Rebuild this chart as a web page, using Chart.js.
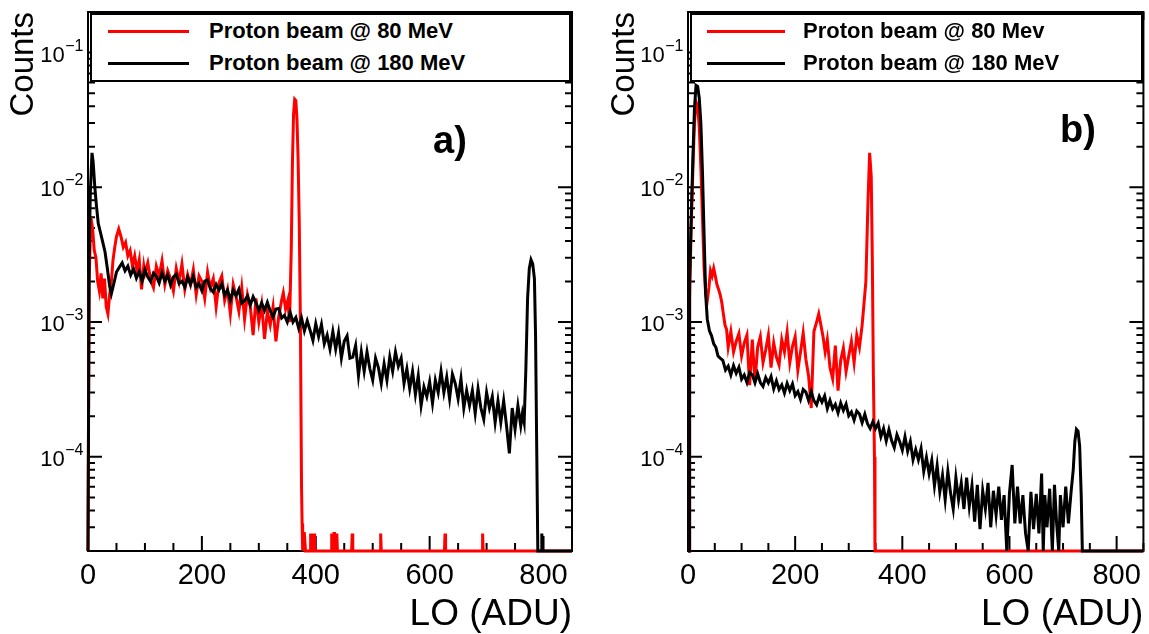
<!DOCTYPE html>
<html>
<head>
<meta charset="utf-8">
<script src="https://cdn.jsdelivr.net/npm/chart.js@4.4.1/dist/chart.umd.min.js"></script>
<style>
html, body { margin: 0; padding: 0; background: #fff; }
#wrap { position: relative; width: 1149px; height: 634px; overflow: hidden;
        font-family: "Liberation Sans", Arial, Helvetica, sans-serif; color: #000; }
canvas { position: absolute; top: 0; }
#ca { left: 0; }
#cb { left: 580px; }
.legbox { position: absolute; top: 13px; height: 69px; box-sizing: border-box;
          border: 2px solid #000; background: #fff; }
.legline { position: absolute; height: 3px; }
.legtext { position: absolute; font-weight: bold; font-size: 22px; line-height: 22px; white-space: nowrap; }
.panel { position: absolute; font-weight: bold; font-size: 38px; line-height: 38px; }
</style>
</head>
<body>
<div id="wrap">
  <canvas id="ca" width="580" height="634"></canvas>
  <canvas id="cb" width="569" height="634"></canvas>

  <div class="legbox" style="left:90px;width:481px;"></div>
  <div class="legline" style="left:108px;top:29.5px;width:81px;background:#ff0000;"></div>
  <div class="legtext" id="la1" style="left:209px;top:20px;"></div>
  <div class="legline" style="left:108px;top:61.5px;width:81px;background:#000;"></div>
  <div class="legtext" id="la2" style="left:209px;top:52px;"></div>
  <div class="panel" id="pa" style="left:433px;top:121px;"></div>

  <div class="legbox" style="left:690px;width:453px;"></div>
  <div class="legline" style="left:707px;top:29.5px;width:78px;background:#ff0000;"></div>
  <div class="legtext" id="lb1" style="left:803px;top:20px;"></div>
  <div class="legline" style="left:707px;top:61.5px;width:78px;background:#000;"></div>
  <div class="legtext" id="lb2" style="left:803px;top:52px;"></div>
  <div class="panel" id="pb" style="left:1060px;top:110px;"></div>
</div>

<script>
// ---------------- axis / label data ----------------
const X_MIN = 0, X_MAX = 850;
const Y_MIN = 2e-5, Y_MAX = 0.2;
const xTickValues = [0, 200, 400, 600, 800];
const yTickValues = [1e-4, 1e-3, 1e-2, 1e-1];
const xTitle = 'LO (ADU)';
const yTitle = 'Counts';
const legendLabelsA = ['Proton beam @ 80 MeV', 'Proton beam @ 180 MeV'];
const legendLabelsB = ['Proton beam @ 80 Mev', 'Proton beam @ 180 MeV'];
const panelLabels = ['a)', 'b)'];

// ---------------- panel a : 180 MeV (black) ----------------
const aBlackX = [
  0, 2, 4, 7, 9, 12, 15, 18, 22, 26,
  30, 34, 38, 41, 45, 50, 55, 60, 65, 70,
  75, 80, 85, 90, 95, 100, 105, 110, 115, 120,
  125, 130, 135, 140, 145, 150, 155, 160, 165, 170,
  175, 180, 185, 190, 195, 200, 205, 210, 215, 220,
  225, 230, 235, 240, 245, 250, 255, 260, 265, 270,
  275, 280, 285, 290, 295, 300, 305, 310, 315, 320,
  325, 330, 335, 340, 345, 350, 355, 360, 365, 370,
  375, 380, 385, 390, 395, 400, 405, 410, 415, 420,
  425, 430, 435, 440, 445, 450, 455, 460, 465, 470,
  475, 480, 485, 490, 495, 500, 505, 510, 515, 520,
  525, 530, 535, 540, 545, 550, 555, 560, 565, 570,
  575, 580, 585, 590, 595, 600, 605, 610, 615, 620,
  625, 630, 635, 640, 645, 650, 655, 660, 665, 670,
  675, 680, 685, 690, 695, 700, 705, 710, 715, 720,
  725, 730, 735, 740, 745, 750, 755, 760, 763, 766,
  769, 772, 775, 778, 781, 784, 786, 788, 790, 796,
  797, 798, 850
];
const aBlackY = [
  0, 3.0e-3, 9.0e-3, 1.8e-2, 1.55e-2, 1.0e-2, 7.2e-3, 5.4e-3, 4.6e-3, 3.9e-3,
  3.3e-3, 2.5e-3, 1.85e-3, 1.62e-3, 1.9e-3, 2.35e-3, 2.55e-3, 2.75e-3, 2.4e-3, 2.6e-3,
  2.23e-3, 2.48e-3, 2.12e-3, 2.37e-3, 2.02e-3, 2.44e-3, 2.16e-3, 2.0e-3, 2.31e-3, 2.19e-3,
  1.95e-3, 2.32e-3, 2.01e-3, 2.23e-3, 1.88e-3, 2.16e-3, 2.27e-3, 1.93e-3, 2.01e-3, 1.82e-3,
  2.16e-3, 1.9e-3, 2.19e-3, 1.81e-3, 1.93e-3, 1.71e-3, 2.01e-3, 2.05e-3, 1.77e-3, 1.67e-3,
  1.9e-3, 1.73e-3, 1.93e-3, 1.58e-3, 1.73e-3, 1.45e-3, 1.73e-3, 1.57e-3, 1.75e-3, 1.38e-3,
  1.44e-3, 1.56e-3, 1.34e-3, 1.54e-3, 1.39e-3, 1.22e-3, 1.39e-3, 1.22e-3, 1.4e-3, 1.21e-3,
  1.09e-3, 1.25e-3, 1.26e-3, 1.07e-3, 1.12e-3, 1.0e-3, 1.18e-3, 1.0e-3, 1.08e-3, 9.0e-4,
  1.07e-3, 8.6e-4, 1.02e-3, 8.7e-4, 7.3e-4, 9.7e-4, 7.8e-4, 9.6e-4, 6.9e-4, 8.0e-4,
  6.3e-4, 8.5e-4, 6.3e-4, 8.3e-4, 5.4e-4, 7.2e-4, 7.9e-4, 5.4e-4, 5.5e-4, 6.7e-4,
  4.0e-4, 6.0e-4, 4.3e-4, 6.0e-4, 4.5e-4, 3.7e-4, 5.4e-4, 4.6e-4, 3.5e-4, 4.9e-4,
  3.7e-4, 5.5e-4, 4.3e-4, 6.0e-4, 4.7e-4, 5.4e-4, 3.5e-4, 4.5e-4, 3.2e-4, 4.3e-4,
  2.9e-4, 4.0e-4, 2.4e-4, 3.3e-4, 2.8e-4, 3.6e-4, 2.5e-4, 3.7e-4, 3.0e-4, 4.3e-4,
  3.0e-4, 3.9e-4, 2.7e-4, 4.1e-4, 3.5e-4, 2.7e-4, 3.8e-4, 2.3e-4, 3.1e-4, 2.4e-4,
  3.1e-4, 2.1e-4, 3.2e-4, 2.3e-4, 1.9e-4, 3.0e-4, 2.3e-4, 2.8e-4, 1.8e-4, 2.6e-4,
  1.8e-4, 2.6e-4, 1.7e-4, 1.06e-4, 2.3e-4, 1.6e-4, 2.4e-4, 1.7e-4, 2.1e-4, 1.8e-4,
  4.5e-4, 1.5e-3, 2.5e-3, 2.9e-3, 2.7e-3, 2.1e-3, 8.0e-4, 1.2e-4, 0, 0,
  2.7e-5, 0, 0
];

// ---------------- panel a : 80 MeV (red) ----------------
const aRedX = [
  0, 2, 5, 8, 11, 14, 17, 20, 23, 26,
  29, 32, 35, 38, 41, 44, 47, 50, 54, 58,
  62, 66, 70, 74, 78, 82, 86, 90, 94, 98,
  100, 105, 110, 115, 120, 125, 130, 135, 140, 145,
  150, 155, 160, 165, 170, 175, 180, 185, 190, 195,
  200, 205, 210, 215, 220, 225, 230, 235, 240, 245,
  250, 255, 260, 265, 270, 275, 280, 285, 290, 295,
  300, 305, 310, 315, 320, 325, 330, 335, 340, 343,
  347, 351, 354, 357, 359, 361, 363, 365, 367, 369,
  371, 373, 375, 376, 377, 379, 380, 382, 390, 391,
  392, 394, 395, 396, 397, 398, 427, 428, 429, 431,
  432, 433, 434, 436, 437, 438, 463, 464, 465, 513,
  514, 515, 626, 627, 628, 692, 693, 694, 850
];
const aRedY = [
  0, 2.0e-3, 6.0e-3, 5.0e-3, 3.4e-3, 3.0e-3, 2.0e-3, 1.7e-3, 2.3e-3, 1.5e-3,
  2.1e-3, 1.3e-3, 1.15e-3, 1.6e-3, 2.0e-3, 2.9e-3, 3.6e-3, 4.3e-3, 4.9e-3, 4.3e-3,
  3.6e-3, 3.9e-3, 3.1e-3, 3.4e-3, 2.6e-3, 3.1e-3, 2.4e-3, 2.9e-3, 1.75e-3, 2.6e-3,
  2.3e-3, 2.75e-3, 2.05e-3, 1.8e-3, 2.6e-3, 2.2e-3, 2.85e-3, 1.9e-3, 2.4e-3, 2.1e-3,
  1.7e-3, 2.5e-3, 2.0e-3, 2.7e-3, 1.75e-3, 2.25e-3, 1.9e-3, 2.45e-3, 1.6e-3, 2.2e-3,
  2.0e-3, 1.5e-3, 2.35e-3, 1.8e-3, 2.1e-3, 1.3e-3, 1.95e-3, 2.2e-3, 1.45e-3, 1.75e-3,
  1.15e-3, 1.9e-3, 1.55e-3, 1.2e-3, 1.8e-3, 1.05e-3, 1.6e-3, 1.3e-3, 8.0e-4, 1.5e-3,
  1.0e-3, 1.35e-3, 7.5e-4, 1.2e-3, 9.5e-4, 1.3e-3, 7.2e-4, 1.1e-3, 1.45e-3, 1.65e-3,
  1.25e-3, 1.45e-3, 1.0e-3, 3.5e-3, 1.5e-2, 3.5e-2, 4.5e-2, 4.4e-2, 3.2e-2, 1.6e-2,
  5.5e-3, 1.0e-3, 6.0e-5, 3.2e-5, 0, 2.7e-5, 2.7e-5, 0, 0, 2.7e-5,
  0, 0, 2.7e-5, 0, 2.7e-5, 0, 0, 2.7e-5, 0, 0,
  2.7e-5, 2.7e-5, 0, 0, 2.7e-5, 0, 0, 2.7e-5, 0, 0,
  2.7e-5, 0, 0, 2.7e-5, 0, 0, 2.7e-5, 0, 0
];

// ---------------- panel b : 180 MeV (black) ----------------
const bBlackX = [
  0, 2, 3, 6, 9, 12, 15, 18, 21, 24,
  27, 30, 33, 36, 40, 44, 48, 52, 56, 60,
  65, 70, 75, 80, 85, 90, 95, 100, 105, 110,
  115, 120, 125, 130, 135, 140, 145, 150, 155, 160,
  165, 170, 175, 180, 185, 190, 195, 200, 205, 210,
  215, 220, 225, 230, 235, 240, 245, 250, 255, 260,
  265, 270, 275, 280, 285, 290, 295, 300, 305, 310,
  315, 320, 325, 330, 335, 340, 345, 350, 355, 360,
  365, 370, 375, 380, 385, 390, 395, 400, 405, 410,
  415, 420, 425, 430, 435, 440, 445, 450, 455, 460,
  465, 470, 475, 480, 485, 490, 495, 500, 505, 510,
  515, 520, 525, 530, 535, 540, 545, 550, 555, 560,
  565, 570, 575, 580, 585, 590, 595, 600, 605, 610,
  615, 620, 625, 630, 635, 640, 645, 650, 655, 660,
  663, 666, 670, 675, 680, 684, 688, 692, 695, 700,
  705, 710, 715, 719, 722, 725, 728, 731, 734, 736,
  850
];
const bBlackY = [
  0, 0, 2.0e-3, 6.0e-3, 1.6e-2, 3.8e-2, 5.7e-2, 5.6e-2, 4.6e-2, 3.0e-2,
  1.3e-2, 4.5e-3, 1.6e-3, 1.05e-3, 8.6e-4, 7.9e-4, 6.9e-4, 6.5e-4, 5.6e-4, 5.4e-4,
  5.2e-4, 4.4e-4, 4.7e-4, 4.05e-4, 4.75e-4, 4.17e-4, 4.62e-4, 3.77e-4, 4.05e-4, 3.56e-4,
  4.23e-4, 4.06e-4, 3.54e-4, 4.14e-4, 3.56e-4, 3.33e-4, 3.87e-4, 3.53e-4, 3.94e-4, 3.19e-4,
  3.66e-4, 3.16e-4, 3.42e-4, 2.97e-4, 3.51e-4, 3.1e-4, 3.47e-4, 2.85e-4, 3.05e-4, 2.67e-4,
  3.16e-4, 3.02e-4, 2.62e-4, 3.05e-4, 2.61e-4, 2.43e-4, 2.81e-4, 2.55e-4, 2.83e-4, 2.28e-4,
  2.62e-4, 2.27e-4, 2.45e-4, 2.12e-4, 2.51e-4, 2.21e-4, 2.46e-4, 2.02e-4, 2.15e-4, 1.87e-4,
  2.19e-4, 2.08e-4, 1.79e-4, 2.07e-4, 1.76e-4, 1.62e-4, 1.82e-4, 1.62e-4, 1.78e-4, 1.41e-4,
  1.62e-4, 1.31e-4, 1.59e-4, 1.32e-4, 1.17e-4, 1.46e-4, 1.3e-4, 1.12e-4, 1.41e-4, 1.1e-4,
  1.3e-4, 9.5e-5, 1.13e-4, 9.5e-5, 1.15e-4, 7.8e-5, 9.9e-5, 7.5e-5, 9.4e-5, 6.1e-5,
  8.6e-5, 5.5e-5, 7.3e-5, 4.8e-5, 7.8e-5, 5.4e-5, 4.1e-5, 7.0e-5, 4.8e-5, 6.4e-5,
  4.1e-5, 7.0e-5, 4.3e-5, 6.1e-5, 3.3e-5, 6.2e-5, 2.9e-5, 5.6e-5, 4.1e-5, 6.4e-5,
  3.0e-5, 5.6e-5, 3.7e-5, 6.0e-5, 3.4e-5, 5.2e-5, 0, 5.4e-5, 8.7e-5, 3.2e-5,
  6.0e-5, 3.2e-5, 5.2e-5, 2.7e-5, 0, 5.5e-5, 2.9e-5, 5.3e-5, 2.7e-5, 7.5e-5,
  0, 5.2e-5, 3.0e-5, 5.8e-5, 0, 6.2e-5, 3.2e-5, 0, 5.2e-5, 3.0e-5,
  6.0e-5, 3.2e-5, 5.5e-5, 8.0e-5, 1.3e-4, 1.6e-4, 1.55e-4, 1.2e-4, 5.0e-5, 0,
  0
];

// ---------------- panel b : 80 MeV (red) ----------------
const bRedX = [
  0, 2, 3, 6, 9, 12, 15, 18, 21, 24,
  27, 30, 33, 36, 39, 42, 45, 48, 51, 54,
  57, 60, 63, 66, 69, 72, 75, 80, 85, 90,
  95, 100, 105, 110, 115, 120, 125, 130, 135, 140,
  145, 150, 155, 160, 165, 170, 175, 180, 185, 190,
  195, 200, 205, 210, 215, 220, 225, 230, 235, 240,
  244, 248, 252, 256, 260, 265, 270, 275, 280, 285,
  290, 295, 300, 305, 310, 315, 320, 325, 328, 332,
  336, 339, 342, 344, 346, 348, 349, 850
];
const bRedY = [
  0, 0, 1.5e-3, 5.2e-3, 1.3e-2, 3.0e-2, 4.3e-2, 4.0e-2, 2.8e-2, 1.4e-2,
  6.0e-3, 2.5e-3, 1.6e-3, 1.45e-3, 1.8e-3, 2.4e-3, 2.2e-3, 2.5e-3, 2.2e-3, 1.9e-3,
  1.75e-3, 1.6e-3, 1.4e-3, 1.15e-3, 9.5e-4, 8.8e-4, 6.5e-4, 8.5e-4, 6.0e-4, 7.2e-4,
  8.2e-4, 5.6e-4, 7.0e-4, 8.0e-4, 3.4e-4, 7.4e-4, 3.6e-4, 6.5e-4, 7.8e-4, 5.0e-4,
  6.2e-4, 8.0e-4, 4.6e-4, 7.0e-4, 5.5e-4, 4.8e-4, 7.4e-4, 6.0e-4, 8.4e-4, 5.0e-4,
  6.6e-4, 7.8e-4, 4.4e-4, 6.0e-4, 8.3e-4, 5.3e-4, 4.0e-4, 2.3e-4, 8.5e-4, 1.0e-3,
  1.15e-3, 9.5e-4, 7.8e-4, 6.0e-4, 7.4e-4, 4.6e-4, 3.8e-4, 6.7e-4, 3.1e-4, 5.2e-4,
  6.4e-4, 4.3e-4, 5.6e-4, 7.2e-4, 5.0e-4, 8.0e-4, 6.5e-4, 9.5e-4, 1.3e-3, 2.0e-3,
  8.0e-3, 1.8e-2, 1.2e-2, 3.0e-3, 4.0e-4, 1.0e-4, 0, 0
];

// ---------------- helpers ----------------
// empty bins are drawn on the lower frame edge, as in the original plot
function toPoints(xs, ys) {
  return xs.map((x, i) => ({ x: x, y: ys[i] > 0 ? ys[i] : Y_MIN }));
}
const FONT = '"Liberation Sans", Arial, Helvetica, sans-serif';

// ROOT-style frame with inward ticks on all four sides + 10^n labels
const rootFrame = {
  id: 'rootFrame',
  beforeDatasetsDraw(chart) {
    const { ctx, chartArea: a, scales } = chart;
    const xs = scales.x, ys = scales.y;
    ctx.save();
    ctx.strokeStyle = '#000';
    ctx.lineWidth = 2;
    ctx.beginPath();
    for (let v = X_MIN; v <= X_MAX; v += 50) {
      const px = xs.getPixelForValue(v);
      const len = (v % 200 === 0) ? 15 : 8;
      ctx.moveTo(px, a.bottom); ctx.lineTo(px, a.bottom - len);
      ctx.moveTo(px, a.top); ctx.lineTo(px, a.top + len);
    }
    for (let e = -5; e <= 0; e++) {
      for (let m = 1; m <= 9; m++) {
        const v = m * Math.pow(10, e);
        if (v <= Y_MIN * 1.0001 || v > Y_MAX) continue;
        const py = ys.getPixelForValue(v);
        const len = (m === 1) ? 14 : 7;
        ctx.moveTo(a.left, py); ctx.lineTo(a.left + len, py);
        ctx.moveTo(a.right, py); ctx.lineTo(a.right - len, py);
      }
    }
    ctx.stroke();
    ctx.strokeRect(a.left, a.top, a.right - a.left, a.bottom - a.top);
    ctx.restore();
  },
  afterDraw(chart) {
    const { ctx, chartArea: a, scales } = chart;
    const ys = scales.y;
    ctx.save();
    ctx.fillStyle = '#000';
    ctx.textAlign = 'left';
    ctx.textBaseline = 'alphabetic';
    for (const v of yTickValues) {
      const py = ys.getPixelForValue(v);
      const e = Math.round(Math.log10(v));
      const base = '10';
      const expo = (e < 0 ? '\u2212' : '') + Math.abs(e);
      ctx.font = '22px ' + FONT;
      const wb = ctx.measureText(base).width;
      ctx.font = '16px ' + FONT;
      const we = ctx.measureText(expo).width;
      const x0 = a.left - 5 - we - wb;
      ctx.font = '22px ' + FONT;
      ctx.fillText(base, x0, py + 9);
      ctx.font = '16px ' + FONT;
      ctx.fillText(expo, x0 + wb + 0.5, py - 2);
    }
    ctx.restore();
  }
};

Chart.defaults.font.family = FONT;
Chart.defaults.color = '#000';

function makeChart(id, blackX, blackY, redX, redY, labels, cfg) {
  return new Chart(document.getElementById(id), {
    type: 'line',
    data: {
      datasets: [
        { label: labels[1], data: toPoints(blackX, blackY), borderColor: '#000000',
          borderWidth: 3, tension: 0, pointRadius: 0, clip: false, fill: false,
          borderJoinStyle: 'miter' },
        { label: labels[0], data: toPoints(redX, redY), borderColor: '#ff0000',
          borderWidth: 3, tension: 0, pointRadius: 0, clip: false, fill: false,
          borderJoinStyle: 'miter' }
      ]
    },
    options: {
      responsive: false,
      animation: false,
      events: [],
      layout: { padding: { top: 12, right: cfg.padRight, bottom: 0, left: 0 } },
      plugins: { legend: { display: false }, tooltip: { enabled: false } },
      scales: {
        x: {
          type: 'linear', min: X_MIN, max: X_MAX,
          afterBuildTicks: s => { s.ticks = xTickValues.map(v => ({ value: v })); },
          afterFit: s => { s.height = 83; },
          grid: { display: false, drawTicks: false },
          border: { display: false },
          ticks: { color: '#000', font: { size: 29 }, padding: 8, maxRotation: 0, autoSkip: false,
                   callback: v => String(v) },
          title: { display: true, text: xTitle, align: 'end', color: '#000',
                   font: { size: 37, lineHeight: 1 }, padding: { top: 0, bottom: 1 } }
        },
        y: {
          type: 'logarithmic', min: Y_MIN, max: Y_MAX,
          afterBuildTicks: s => { s.ticks = yTickValues.map(v => ({ value: v })); },
          afterFit: s => { s.width = cfg.yWidth; },
          grid: { display: false, drawTicks: false },
          border: { display: false },
          ticks: { display: false },
          title: { display: true, text: yTitle, align: 'end', color: '#000',
                   font: { size: 33, lineHeight: 1 }, padding: { top: cfg.yTitlePad, bottom: 0 } }
        }
      }
    },
    plugins: [rootFrame]
  });
}

makeChart('ca', aBlackX, aBlackY, aRedX, aRedY, legendLabelsA, { yWidth: 88, padRight: 8, yTitlePad: 7.5 });
makeChart('cb', bBlackX, bBlackY, bRedX, bRedY, legendLabelsB, { yWidth: 108, padRight: 3, yTitlePad: 28 });

document.getElementById('la1').textContent = legendLabelsA[0];
document.getElementById('la2').textContent = legendLabelsA[1];
document.getElementById('lb1').textContent = legendLabelsB[0];
document.getElementById('lb2').textContent = legendLabelsB[1];
document.getElementById('pa').textContent = panelLabels[0];
document.getElementById('pb').textContent = panelLabels[1];
</script>
</body>
</html>
